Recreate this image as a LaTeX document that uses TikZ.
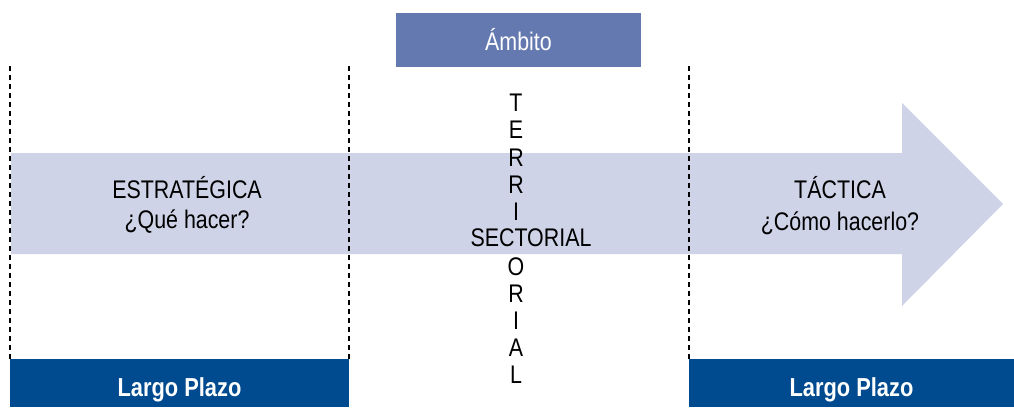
\documentclass[tikz,border=0pt]{standalone}
\usepackage{fontspec}
\setmainfont{Liberation Sans}[FakeStretch=0.84]
\usetikzlibrary{positioning}
\definecolor{ambitoblue}{HTML}{6479B0}
\definecolor{arrowgray}{HTML}{CED3E7}
\definecolor{plazoblue}{HTML}{004A8F}
\tikzset{
x=0.02cm, y=-0.02cm, % one unit is one pixel of the layout
label/.style={font=\fontsize{14.5}{16}\selectfont, align=center, inner sep=0pt}, % texts on the arrow
plazo/.style={fill=plazoblue, text=white, font=\fontsize{14.8}{16}\selectfont\bfseries, inner sep=0pt,
  text height=16pt, text depth=0.4pt}, % bottom boxes
divider/.style={dash pattern=on 0.1cm off 0.08cm, line width=0.7pt}, % dashed separators
}
\begin{document}
\begin{tikzpicture}
    \useasboundingbox (0,0) rectangle (1014,407);
    % big arrow
    \fill[arrowgray] (11,153) -- (902,153) -- (902,103) -- (1003,204) -- (902,306) -- (902,254) -- (11,254) -- cycle;
    % separators
    \foreach \x in {10,349,689}
      \draw[divider] (\x,66) -- (\x,360);
    % top box
    \node[fill=ambitoblue, text=white, minimum width=245*0.02cm, minimum height=54*0.02cm, inner sep=0pt,
      font=\fontsize{14.5}{16}\selectfont] (ambito) at (518.5,40) {Ámbito};
    % bottom boxes
    \node[plazo, minimum width=339*0.02cm, minimum height=48*0.02cm] (plazoL) at (179.5,383) {Largo Plazo};
    \node[plazo, minimum width=325*0.02cm, minimum height=48*0.02cm] (plazoR) at (851.5,383) {Largo Plazo};
    % texts on the arrow
    \node[label] (estrategica) at (187,188) {ESTRATÉGICA};
    \node[label] (quehacer) at (187,222) {¿Qué hacer?};
    \node[label] (tactica) at (840,188) {TÁCTICA};
    \node[label] (comohacer) at (840,223) {¿Cómo hacerlo?};
    \node[label] (sectorial) at (531,238) {SECTORIAL};
    \node[label, font=\fontsize{14.5}{15.5}\selectfont] (territorial) at (516,239)
      {T\\E\\R\\R\\I\\\phantom{T}\\O\\R\\I\\A\\L};
\end{tikzpicture}
\end{document}
